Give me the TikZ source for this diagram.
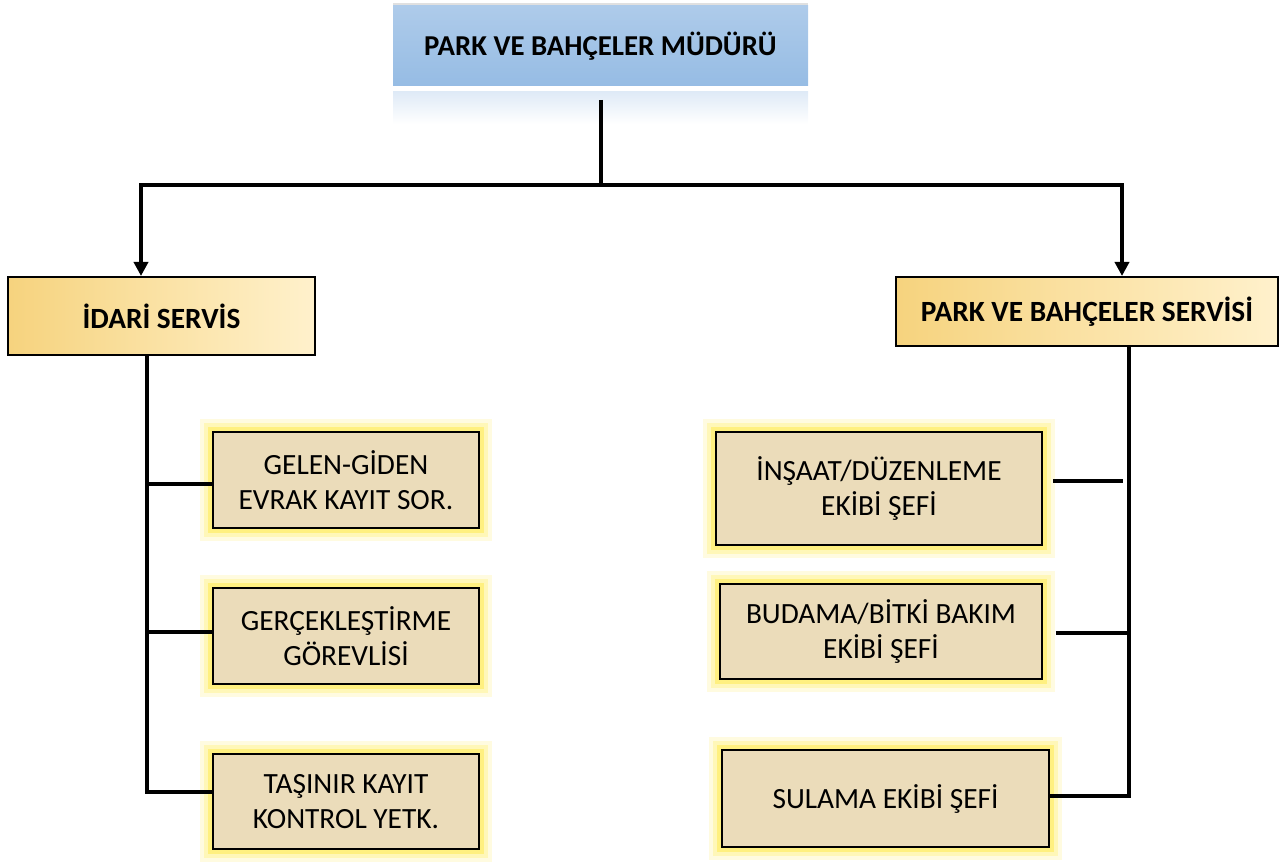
\documentclass[tikz,border=0pt]{standalone}
\usepackage{fontspec}
\setmainfont{Carlito}
\usetikzlibrary{arrows.meta,calc}
\definecolor{topA}{HTML}{AECBEA}
\definecolor{topB}{HTML}{96BCE4}
\definecolor{srvA}{HTML}{F6D37E}
\definecolor{srvB}{HTML}{FFF1CC}
\definecolor{parch}{HTML}{EBDCBA}
\definecolor{glowA}{HTML}{FFFBE0}
\definecolor{glowC}{HTML}{FFF7B8}
\definecolor{glowB}{HTML}{FFF080}
\begin{document}
\begin{tikzpicture}[x=0.75pt,y=-0.75pt,
  conn/.style={draw=black, line width=3.6pt},
  arr/.style={-{Triangle[length=10.5pt,width=10.5pt]}},
  topbox/.style={top color=topA, bottom color=topB, draw=none,
    font=\fontsize{21.6}{26}\selectfont\bfseries},
  srvbox/.style={left color=srvA, right color=srvB, draw=black, line width=1.5pt,
    font=\fontsize{22}{26}\selectfont\bfseries},
  childbox/.style={fill=parch, draw=black, line width=1.2pt, align=center,
    font=\fontsize{22}{26}\selectfont,
    preaction={draw=glowA, line width=19pt},
    preaction={draw=glowC, line width=13pt},
    preaction={draw=glowB, line width=7pt}},
]
\useasboundingbox (0,0) rectangle (1286,862);

% top box and its reflection
\fill[top color=topA!40, bottom color=white] (393,92) rectangle (808,124);
\fill[black!12] (393,3) rectangle (808,6);
\node[topbox, minimum width=311.25pt, minimum height=60pt] (top) at (600.5,46) {PARK VE BAHÇELER MÜDÜRÜ};

% service boxes
\node[srvbox, minimum width=230.25pt, minimum height=58.5pt] (idari) at (161.5,316) {İDARİ SERVİS};
\node[srvbox, minimum width=286.5pt, minimum height=51.75pt] (parksrv) at (1087,311.5) {PARK VE BAHÇELER SERVİSİ};

% left children
\node[childbox, minimum width=199.5pt, minimum height=72pt] (c1) at (346,480) {GELEN-GİDEN\\EVRAK KAYIT SOR.};
\node[childbox, minimum width=199.5pt, minimum height=72pt] (c2) at (346,636) {GERÇEKLEŞTİRME\\GÖREVLİSİ};
\node[childbox, minimum width=199.5pt, minimum height=71.25pt] (c3) at (346,801.5) {TAŞINIR KAYIT\\KONTROL YETK.};

% right children
\node[childbox, minimum width=244.5pt, minimum height=84.75pt] (r1) at (879,488.5) {İNŞAAT/DÜZENLEME\\EKİBİ ŞEFİ};
\node[childbox, minimum width=241.5pt, minimum height=71.25pt] (r2) at (881,631.5) {BUDAMA/BİTKİ BAKIM\\EKİBİ ŞEFİ};
\node[childbox, minimum width=245.25pt, minimum height=72.75pt] (r3) at (885.5,798.5) {SULAMA EKİBİ ŞEFİ};

% hub coordinates
\coordinate (hubtop) at (601,100);
\coordinate (hub) at (601,185);
\coordinate (jl) at (141,185);
\coordinate (jr) at (1122,185);
\coordinate (lt) at (147,792);
\coordinate (rt) at (1129,796);
\coordinate (rb1) at (1123,481);
\coordinate (rb2) at (1129,633);

% top connectors
\draw[conn] (hubtop) -- (hub);
\draw[conn, arr] (hub) -- (jl) -- (jl |- idari.north);
\draw[conn, arr] (hub) -- (jr) -- (jr |- parksrv.north);

% left trunk and branches
\draw[conn] (lt |- idari.south) -- (lt) -- (c3.west |- lt);
\draw[conn] (lt |- c1.west) ++(0,4) coordinate (lb1) -- (c1.west |- lb1);
\draw[conn] (lt |- c2.west) ++(0,-4) coordinate (lb2) -- (c2.west |- lb2);

% right trunk and branches
\draw[conn] (rt |- parksrv.south) -- (rt) -- (r3.east |- rt);
\draw[conn, shorten <=7.5pt] (r1.east |- rb1) -- (rb1);
\draw[conn, shorten <=9.75pt] (r2.east |- rb2) -- (rb2);
\end{tikzpicture}
\end{document}
